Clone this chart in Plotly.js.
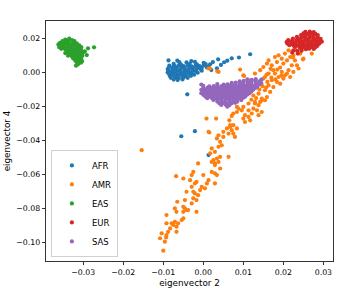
<!DOCTYPE html>
<html>
<head>
<meta charset="utf-8">
<script src="https://cdn.plot.ly/plotly-3.0.1.min.js"></script>
<style>html,body{margin:0;padding:0;background:#fff}#chart{width:344px;height:293px}</style>
</head>
<body>
<div id="chart"></div>
<script>
// Populations (legend order)
const groups = ["AFR", "AMR", "EAS", "EUR", "SAS"];
const colors = ["#1f77b4", "#ff7f0e", "#2ca02c", "#d62728", "#9467bd"];

// Axis ticks
const xTickVals = [-0.03, -0.02, -0.01, 0.00, 0.01, 0.02, 0.03];
const xTickText = ["\u22120.03", "\u22120.02", "\u22120.01", "0.00", "0.01", "0.02", "0.03"];
const yTickVals = [-0.10, -0.08, -0.06, -0.04, -0.02, 0.00, 0.02];
const yTickText = ["\u22120.10", "\u22120.08", "\u22120.06", "\u22120.04", "\u22120.02", "0.00", "0.02"];

// [eigenvector 2, eigenvector 4]
const AFR = [
[-0.0087,0.0072],[-0.0065,0.0070],[-0.0030,0.0068],
[-0.0060,0.0062],[-0.0042,0.0060],[-0.0021,0.0063],[0.0001,0.0058],
[-0.0074,0.0051],[-0.0056,0.0049],[-0.0034,0.0052],[-0.0016,0.0048],[0.0006,0.0050],
[-0.0085,0.0041],[-0.0071,0.0038],[-0.0061,0.0042],[-0.0049,0.0039],[-0.0039,0.0043],[-0.0029,0.0037],[-0.0019,0.0041],[-0.0009,0.0038],[0.0001,0.0042],[0.0012,0.0036],
[-0.0086,0.0029],[-0.0076,0.0032],[-0.0066,0.0028],[-0.0054,0.0031],[-0.0046,0.0027],[-0.0034,0.0032],[-0.0026,0.0028],[-0.0014,0.0031],[-0.0004,0.0027],[0.0009,0.0030],
[-0.0089,0.0021],[-0.0077,0.0018],[-0.0069,0.0022],[-0.0057,0.0019],[-0.0047,0.0021],[-0.0037,0.0018],[-0.0027,0.0022],[-0.0017,0.0019],[-0.0007,0.0021],
[-0.0088,0.0011],[-0.0079,0.0008],[-0.0067,0.0012],[-0.0059,0.0009],[-0.0047,0.0011],[-0.0039,0.0008],[-0.0027,0.0012],[-0.0019,0.0009],[-0.0004,0.0011],
[-0.0089,0.0001],[-0.0077,-0.0002],[-0.0069,0.0002],[-0.0057,-0.0001],[-0.0049,0.0002],[-0.0037,-0.0002],[-0.0029,0.0001],[-0.0014,-0.0001],
[-0.0085,-0.0011],[-0.0077,-0.0008],[-0.0065,-0.0012],[-0.0057,-0.0009],[-0.0045,-0.0011],[-0.0035,-0.0008],[-0.0023,-0.0012],
[-0.0083,-0.0021],[-0.0073,-0.0019],[-0.0065,-0.0022],[-0.0053,-0.0018],[-0.0043,-0.0021],[-0.0031,-0.0019],
[-0.0081,-0.0031],[-0.0069,-0.0029],[-0.0061,-0.0032],[-0.0049,-0.0028],[-0.0039,-0.0031],
[-0.0074,-0.0041],[-0.0064,-0.0044],[-0.0052,-0.0040],
[0.0017,0.0049],[0.0024,0.0062],[0.0037,0.0078],[0.0052,0.0061],[0.0071,0.0084],[0.0089,0.0089],[0.0117,0.0108],
[0.0034,0.0025],[0.0020,0.0015],[0.0044,0.0045],[0.0060,0.0070],
[-0.0040,-0.0128],[-0.0055,-0.0375],[-0.0021,-0.0345],[0.0013,-0.0486]
];

const AMR = [
[-0.0100,-0.1049],[-0.0096,-0.0996],[-0.0108,-0.0976],[-0.0104,-0.0947],[-0.0092,-0.0957],[-0.0088,-0.0938],[-0.0093,-0.0971],
[-0.0083,-0.0918],[-0.0079,-0.0888],[-0.0092,-0.0888],[-0.0071,-0.0879],[-0.0075,-0.0898],[-0.0067,-0.0938],[-0.0067,-0.0908],
[-0.0063,-0.0888],[-0.0092,-0.0839],[-0.0054,-0.0869],[-0.0050,-0.0859],[-0.0071,-0.0800],[-0.0067,-0.0820],[-0.0065,-0.0761],
[-0.0050,-0.0820],[-0.0046,-0.0800],[-0.0042,-0.0810],[-0.0038,-0.0810],[-0.0050,-0.0791],[-0.0017,-0.0820],[-0.0046,-0.0751],
[-0.0029,-0.0771],[-0.0025,-0.0741],[-0.0017,-0.0751],[-0.0013,-0.0722],[-0.0021,-0.0712],[-0.0042,-0.0702],[-0.0025,-0.0702],
[-0.0008,-0.0692],[-0.0029,-0.0673],[-0.0021,-0.0653],[-0.0017,-0.0644],[-0.0004,-0.0673],[0.0004,-0.0682],[0.0009,-0.0653],
[0.0013,-0.0634],[0.0029,-0.0653],[0.0000,-0.0604],[-0.0033,-0.0634],[-0.0029,-0.0604],[-0.0025,-0.0585],[-0.0050,-0.0624],
[-0.0068,-0.0610],[0.0021,-0.0585],[0.0029,-0.0594],[0.0034,-0.0604],[0.0042,-0.0565],[-0.0013,-0.0535],[0.0021,-0.0526],
[0.0029,-0.0535],[0.0038,-0.0526],
[0.0029,-0.0545],[0.0025,-0.0516],[0.0034,-0.0506],[0.0042,-0.0496],[0.0063,-0.0496],[0.0021,-0.0447],[0.0017,-0.0476],
[0.0029,-0.0467],[0.0038,-0.0437],[0.0046,-0.0428],[0.0042,-0.0408],[0.0034,-0.0388],[0.0038,-0.0369],[0.0050,-0.0379],
[0.0050,-0.0349],[0.0059,-0.0329],[0.0067,-0.0320],[0.0071,-0.0339],[0.0075,-0.0359],[0.0063,-0.0359],[0.0067,-0.0310],
[0.0075,-0.0310],[0.0084,-0.0329],[0.0079,-0.0379],[0.0013,-0.0349],[0.0032,-0.0271],[0.0065,-0.0281],[0.0071,-0.0255],
[0.0075,-0.0241],[0.0084,-0.0232],[0.0088,-0.0212],[0.0096,-0.0222],[0.0100,-0.0271],[0.0104,-0.0251],[0.0113,-0.0261],
[0.0117,-0.0281],[0.0104,-0.0291],[0.0121,-0.0241],[0.0125,-0.0212],[0.0134,-0.0222],[0.0138,-0.0192],[0.0129,-0.0173],
[0.0142,-0.0173],[0.0146,-0.0153],[0.0154,-0.0163],[0.0159,-0.0144],[0.0113,-0.0182],[0.0100,-0.0202],[0.0138,-0.0251],
[0.0146,-0.0232],[0.0084,-0.0202],
[0.0092,0.0018],[0.0100,-0.0016],[0.0117,-0.0055],[0.0129,-0.0006],[0.0142,0.0014],[0.0150,0.0033],[0.0159,0.0053],
[0.0163,0.0072],[0.0171,0.0043],[0.0179,0.0092],[0.0184,0.0062],[0.0188,0.0102],[0.0196,0.0082],[0.0200,0.0053],
[0.0204,0.0112],[0.0209,0.0072],[0.0213,0.0131],[0.0217,0.0092],[0.0225,0.0102],[0.0229,0.0072],[0.0234,0.0043],
[0.0238,0.0024],[0.0229,0.0131],[0.0242,0.0112],[0.0250,0.0082],[0.0246,0.0131],[0.0221,0.0043],[0.0213,0.0014],
[0.0204,-0.0016],[0.0196,0.0004],[0.0188,-0.0026],[0.0179,-0.0006],[0.0171,-0.0045],[0.0163,-0.0075],[0.0154,-0.0104],
[0.0167,-0.0114],[0.0146,-0.0163],[0.0175,-0.0085],[0.0184,-0.0055],[0.0192,-0.0065],[0.0200,-0.0035],[0.0209,-0.0006],
[0.0217,-0.0026],[0.0225,0.0004],[0.0138,-0.0124],[0.0129,-0.0182],[0.0113,-0.0222],[0.0150,-0.0035],[0.0138,-0.0065],
[0.0121,-0.0104],[0.0163,-0.0006],[0.0154,-0.0026],[0.0175,0.0014],
[0.0250,0.0161],[0.0259,0.0141],[0.0271,0.0112],[0.0224,0.0090],[0.0249,0.0078],
[0.0192,0.0030],[0.0185,0.0018],[0.0168,0.0022],[0.0158,-0.0012],[0.0170,-0.0030],[0.0180,-0.0040],[0.0195,-0.0018],
[0.0160,-0.0055],[0.0148,-0.0080],[0.0157,-0.0088],[0.0132,-0.0150],[0.0125,-0.0135],[0.0140,-0.0100],[0.0120,-0.0160],
[-0.0154,-0.0457],[0.0013,0.0024],[0.0038,0.0004],[0.0008,-0.0271],[0.0015,-0.0353],[0.0113,-0.0045],[0.0102,-0.0020],
[0.0017,0.0024],[0.0035,0.0008]
];

const EAS = [
[-0.0345,0.0195],[-0.0335,0.0200],[-0.0328,0.0192],[-0.0352,0.0185],[-0.0340,0.0188],[-0.0322,0.0186],
[-0.0358,0.0176],[-0.0347,0.0178],[-0.0336,0.0180],[-0.0325,0.0177],[-0.0316,0.0172],
[-0.0362,0.0166],[-0.0352,0.0168],[-0.0341,0.0170],[-0.0330,0.0167],[-0.0320,0.0164],[-0.0310,0.0160],
[-0.0357,0.0157],[-0.0346,0.0158],[-0.0336,0.0156],[-0.0326,0.0158],[-0.0315,0.0153],[-0.0305,0.0150],
[-0.0350,0.0147],[-0.0340,0.0146],[-0.0330,0.0148],[-0.0320,0.0144],[-0.0310,0.0141],
[-0.0345,0.0137],[-0.0335,0.0136],[-0.0325,0.0137],[-0.0315,0.0133],[-0.0305,0.0130],
[-0.0340,0.0127],[-0.0330,0.0126],[-0.0320,0.0124],[-0.0310,0.0120],[-0.0300,0.0118],
[-0.0337,0.0116],[-0.0327,0.0115],[-0.0317,0.0113],[-0.0307,0.0110],
[-0.0332,0.0105],[-0.0322,0.0104],[-0.0312,0.0101],[-0.0302,0.0099],
[-0.0328,0.0094],[-0.0318,0.0092],[-0.0308,0.0090],[-0.0325,0.0083],[-0.0315,0.0081],[-0.0305,0.0079],
[-0.0320,0.0071],[-0.0310,0.0069],[-0.0316,0.0060],[-0.0306,0.0058],[-0.0313,0.0049],[-0.0318,0.0041],
[-0.0303,0.0066],[-0.0338,0.0100],[-0.0345,0.0115],[-0.0355,0.0140],[-0.0360,0.0150],
[-0.0288,0.0143],[-0.0273,0.0149],[-0.0291,0.0103],[-0.0296,0.0125]
];

const EUR = [
[0.0255,0.0240],[0.0266,0.0242],[0.0276,0.0238],
[0.0250,0.0231],[0.0261,0.0229],[0.0270,0.0232],[0.0280,0.0228],
[0.0244,0.0221],[0.0256,0.0219],[0.0265,0.0222],[0.0276,0.0218],[0.0286,0.0221],
[0.0234,0.0211],[0.0246,0.0208],[0.0254,0.0212],[0.0266,0.0209],[0.0274,0.0211],[0.0286,0.0208],
[0.0224,0.0201],[0.0236,0.0198],[0.0244,0.0202],[0.0256,0.0199],[0.0264,0.0201],[0.0276,0.0198],[0.0284,0.0202],[0.0293,0.0199],
[0.0212,0.0191],[0.0222,0.0188],[0.0233,0.0192],[0.0242,0.0189],[0.0253,0.0191],[0.0262,0.0188],[0.0273,0.0191],[0.0282,0.0188],[0.0292,0.0190],
[0.0208,0.0180],[0.0219,0.0182],[0.0228,0.0178],[0.0239,0.0181],[0.0248,0.0179],[0.0259,0.0182],[0.0268,0.0178],[0.0279,0.0181],[0.0288,0.0179],[0.0296,0.0182],
[0.0210,0.0171],[0.0221,0.0168],[0.0230,0.0172],[0.0241,0.0169],[0.0250,0.0171],[0.0261,0.0168],[0.0270,0.0172],[0.0281,0.0169],[0.0290,0.0171],
[0.0215,0.0161],[0.0226,0.0158],[0.0235,0.0161],[0.0246,0.0158],[0.0255,0.0161],[0.0266,0.0158],[0.0275,0.0161],[0.0285,0.0158],
[0.0230,0.0151],[0.0241,0.0148],[0.0250,0.0151],[0.0261,0.0148],[0.0270,0.0151],[0.0280,0.0149],
[0.0245,0.0141],[0.0256,0.0138],[0.0265,0.0141],[0.0276,0.0139],
[0.0225,0.0131],[0.0235,0.0128],[0.0222,0.0118],[0.0236,0.0112],[0.0245,0.0128]
];

const SAS = [
[0.0110,-0.0040],[0.0121,-0.0042],[0.0131,-0.0039],[0.0145,-0.0041],
[0.0091,-0.0051],[0.0101,-0.0049],[0.0111,-0.0052],[0.0121,-0.0050],[0.0131,-0.0048],[0.0141,-0.0051],
[0.0071,-0.0061],[0.0081,-0.0059],[0.0091,-0.0062],[0.0100,-0.0060],[0.0111,-0.0058],[0.0120,-0.0061],[0.0131,-0.0059],[0.0145,-0.0062],
[0.0051,-0.0071],[0.0061,-0.0069],[0.0071,-0.0072],[0.0080,-0.0070],[0.0091,-0.0068],[0.0100,-0.0071],[0.0111,-0.0069],[0.0120,-0.0072],[0.0131,-0.0070],[0.0140,-0.0068],
[0.0015,-0.0081],[0.0026,-0.0079],[0.0035,-0.0082],[0.0046,-0.0080],[0.0055,-0.0078],[0.0066,-0.0081],[0.0075,-0.0079],[0.0086,-0.0082],[0.0095,-0.0080],[0.0106,-0.0078],[0.0115,-0.0081],[0.0126,-0.0079],[0.0135,-0.0082],
[0.0000,-0.0091],[0.0011,-0.0089],[0.0020,-0.0092],[0.0031,-0.0090],[0.0040,-0.0088],[0.0051,-0.0091],[0.0060,-0.0089],[0.0071,-0.0092],[0.0080,-0.0090],[0.0091,-0.0088],[0.0100,-0.0091],[0.0111,-0.0089],[0.0120,-0.0092],[0.0131,-0.0090],
[-0.0005,-0.0101],[0.0006,-0.0099],[0.0015,-0.0102],[0.0026,-0.0100],[0.0035,-0.0098],[0.0046,-0.0101],[0.0055,-0.0099],[0.0066,-0.0102],[0.0075,-0.0100],[0.0086,-0.0098],[0.0095,-0.0101],[0.0106,-0.0099],[0.0115,-0.0102],[0.0125,-0.0100],
[0.0000,-0.0111],[0.0011,-0.0109],[0.0020,-0.0112],[0.0031,-0.0110],[0.0040,-0.0108],[0.0051,-0.0111],[0.0060,-0.0109],[0.0071,-0.0112],[0.0080,-0.0110],[0.0091,-0.0108],[0.0100,-0.0111],[0.0111,-0.0109],[0.0120,-0.0112],
[-0.0005,-0.0121],[0.0006,-0.0119],[0.0015,-0.0122],[0.0026,-0.0120],[0.0035,-0.0118],[0.0046,-0.0121],[0.0055,-0.0119],[0.0066,-0.0122],[0.0075,-0.0120],[0.0086,-0.0118],[0.0095,-0.0121],[0.0106,-0.0119],[0.0115,-0.0122],
[0.0000,-0.0131],[0.0011,-0.0129],[0.0020,-0.0132],[0.0031,-0.0130],[0.0040,-0.0128],[0.0051,-0.0131],[0.0060,-0.0129],[0.0071,-0.0132],[0.0080,-0.0130],[0.0091,-0.0128],[0.0100,-0.0131],[0.0110,-0.0129],
[0.0005,-0.0141],[0.0016,-0.0139],[0.0025,-0.0142],[0.0036,-0.0140],[0.0045,-0.0138],[0.0056,-0.0141],[0.0065,-0.0139],[0.0076,-0.0142],[0.0085,-0.0140],[0.0096,-0.0138],[0.0105,-0.0141],
[0.0010,-0.0151],[0.0021,-0.0149],[0.0030,-0.0152],[0.0041,-0.0150],[0.0050,-0.0148],[0.0061,-0.0151],[0.0070,-0.0149],[0.0081,-0.0152],[0.0090,-0.0150],[0.0100,-0.0148],
[0.0025,-0.0161],[0.0036,-0.0159],[0.0045,-0.0162],[0.0056,-0.0160],[0.0065,-0.0158],[0.0076,-0.0161],[0.0085,-0.0159],[0.0095,-0.0162],
[0.0035,-0.0171],[0.0046,-0.0169],[0.0055,-0.0172],[0.0066,-0.0170],[0.0075,-0.0168],[0.0085,-0.0171],
[0.0040,-0.0181],[0.0051,-0.0179],[0.0060,-0.0182],[0.0071,-0.0180],[0.0080,-0.0178],
[0.0045,-0.0191],[0.0056,-0.0189],[0.0065,-0.0192],[0.0060,-0.0201],
[-0.0005,-0.0070],[0.0000,-0.0078],[0.0035,-0.0068]
];

const pointSets = [AFR, AMR, EAS, EUR, SAS];

const traces = groups.map((name, i) => ({
  type: "scatter",
  mode: "markers",
  name: name,
  x: pointSets[i].map(p => p[0]),
  y: pointSets[i].map(p => p[1]),
  marker: {color: colors[i], size: 4.2, line: {width: 0}},
  hoverinfo: "x+y+name"
}));

const fam = "DejaVu Sans, sans-serif";

const layout = {
  width: 344,
  height: 293,
  margin: {l: 46, r: 11, t: 21, b: 32, pad: 0},
  paper_bgcolor: "#fff",
  plot_bgcolor: "#fff",
  font: {family: fam, size: 8, color: "#000"},
  showlegend: true,
  legend: {
    x: 0.017, y: 0.017, xanchor: "left", yanchor: "bottom",
    bgcolor: "rgba(255,255,255,0.8)", bordercolor: "#d0d0d0", borderwidth: 1,
    font: {family: fam, size: 8.5, color: "#000"},
    itemsizing: "trace", itemwidth: 30, tracegroupgap: 0
  },
  xaxis: {
    range: [-0.0393, 0.0324],
    tickvals: xTickVals, ticktext: xTickText,
    ticks: "outside", ticklen: 3.5, tickwidth: 0.8, tickcolor: "#000",
    showline: true, linecolor: "#000", linewidth: 0.8, mirror: true,
    showgrid: false, zeroline: false,
    tickfont: {family: fam, size: 7.8, color: "#000"},
    title: {text: "eigenvector 2", font: {family: fam, size: 8.8, color: "#000"}, standoff: 4}
  },
  yaxis: {
    range: [-0.1110, 0.0304],
    tickvals: yTickVals, ticktext: yTickText,
    ticks: "outside", ticklen: 3.5, tickwidth: 0.8, tickcolor: "#000",
    showline: true, linecolor: "#000", linewidth: 0.8, mirror: true,
    showgrid: false, zeroline: false,
    tickfont: {family: fam, size: 7.8, color: "#000"},
    title: {text: "eigenvector 4", font: {family: fam, size: 8.8, color: "#000"}, standoff: 4}
  }
};

Plotly.newPlot("chart", traces, layout, {staticPlot: true, displayModeBar: false});
</script>
</body>
</html>
